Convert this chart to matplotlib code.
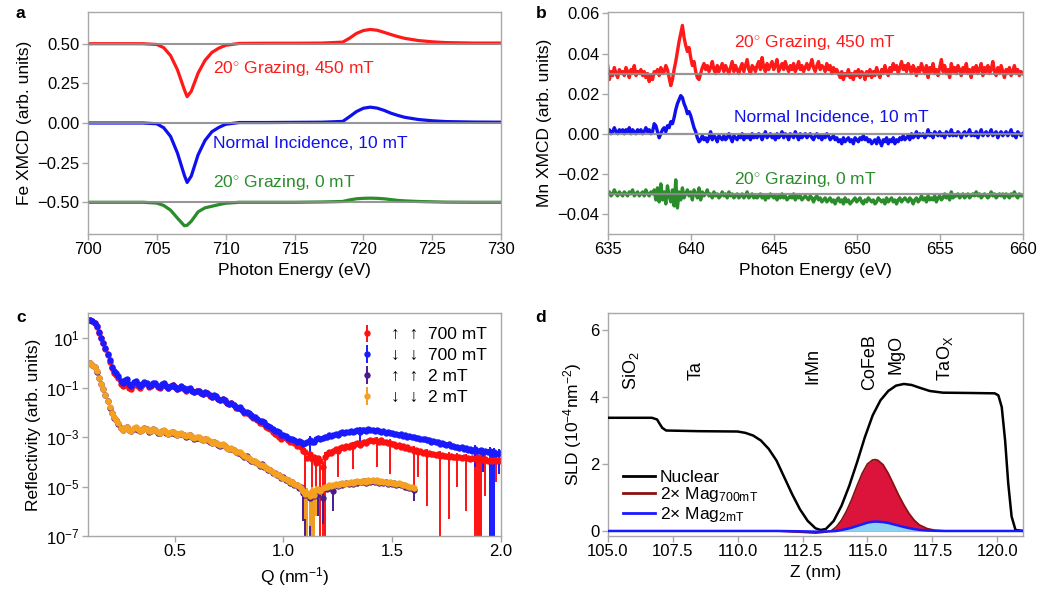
import numpy as np
import matplotlib
matplotlib.use("Agg")
import matplotlib.pyplot as plt
from matplotlib.ticker import FuncFormatter, NullLocator, LogFormatterMathtext

plt.rcParams['font.family'] = ['Liberation Sans', 'DejaVu Sans']
plt.rcParams['mathtext.fontset'] = 'custom'
plt.rcParams['mathtext.rm'] = 'Liberation Sans'
plt.rcParams['mathtext.it'] = 'Liberation Sans:italic'
plt.rcParams['mathtext.bf'] = 'Liberation Sans:bold'
plt.rcParams['font.size'] = 12.5

# ---- panel a: Fe XMCD (relative to each offset baseline)
fe_energy = [700, 702, 704, 705, 705.5, 706, 706.5, 707, 707.2, 707.5,
             708, 708.5, 709, 709.5, 710, 711, 713, 715, 717, 718.5,
             719, 719.5, 720, 720.5, 721, 721.5, 722, 722.5, 723, 724,
             725, 726, 728, 730]
fe_graz450 = [0, 0, 0, -0.005, -0.025, -0.075, -0.165, -0.29, -0.334, -0.30,
              -0.185, -0.105, -0.055, -0.028, -0.01, 0.002, 0.003, 0.003, 0.004, 0.01,
              0.035, 0.065, 0.083, 0.09, 0.085, 0.072, 0.058, 0.045, 0.034, 0.02,
              0.012, 0.007, 0.004, 0.004]
fe_normal10 = [0, 0, 0, -0.005, -0.03, -0.085, -0.19, -0.33, -0.375, -0.335,
               -0.2, -0.11, -0.055, -0.028, -0.008, 0.003, 0.003, 0.004, 0.005, 0.01,
               0.04, 0.072, 0.093, 0.1, 0.094, 0.08, 0.062, 0.048, 0.036, 0.022,
               0.014, 0.009, 0.006, 0.005]
fe_graz0 = [0, 0, 0, -0.005, -0.02, -0.05, -0.10, -0.148, -0.145, -0.12,
            -0.06, -0.035, -0.025, -0.015, -0.006, 0, 0, 0, 0.002, 0.005,
            0.015, 0.022, 0.025, 0.026, 0.025, 0.022, 0.017, 0.012, 0.009, 0.005,
            0.003, 0.001, 0, 0]
fe_offsets = [0.5, 0.0, -0.5]

# ---- panel b: Mn XMCD, 635-660 eV every 0.1 eV, values in units of 1e-3
mn_graz450 = [
    34, 27, 31, 29, 33, 30, 28, 32, 30, 31,
    29, 33, 31, 28, 32, 30, 34, 29, 31, 30,
    32, 29, 31, 28, 30, 26, 29, 27, 31, 30,
    32, 29, 33, 30, 31, 34, 32, 28, 24, 27,
    32, 36, 41, 46, 50, 54, 48, 44, 41, 43,
    38, 34, 36, 31, 28, 27, 30, 33, 35, 32,
    34, 31, 33, 36, 32, 30, 34, 31, 33, 35,
    31, 34, 32, 30, 33, 36, 31, 34, 32, 30,
    33, 35, 31, 34, 37, 32, 30, 34, 33, 31,
    34, 36, 32, 38, 33, 31, 35, 32, 34, 36,
    32, 34, 37, 31, 33, 35, 32, 36, 33, 31,
    34, 32, 35, 31, 33, 36, 32, 34, 31, 33,
    35, 32, 34, 37, 33, 31, 34, 36, 32, 34,
    33, 31, 35, 32, 34, 30, 33, 31, 32, 30,
    28, 31, 27, 30, 29, 32, 28, 30, 27, 31,
    29, 32, 28, 31, 30, 27, 31, 29, 32, 28,
    31, 29, 33, 30, 28, 32, 30, 34, 31, 29,
    33, 31, 35, 32, 34, 30, 33, 36, 32, 34,
    31, 35, 33, 30, 34, 32, 29, 33, 31, 35,
    32, 30, 34, 28, 33, 31, 35, 30, 32, 29,
    33, 37, 31, 34, 30, 32, 28, 35, 31, 33,
    30, 34, 32, 29, 33, 31, 35, 30, 32, 28,
    33, 31, 34, 30, 32, 35, 29, 33, 31, 34,
    30, 32, 36, 31, 29, 33, 30, 34, 31, 28,
    32, 30, 33, 29, 31, 34, 30, 32, 29, 31,
    30]
mn_normal10 = [
    1, 2, 0, 1, 3, 1, 0, 2, 1, 2,
    0, 2, 1, 3, 0, 2, 1, 0, 2, 1,
    2, 0, 1, 3, 1, 2, 0, 1, 5, 4,
    1, -2, 0, 2, 3, 1, 4, 3, 6, 5,
    8, 12, 15, 17, 19, 18, 15, 13, 10, 11,
    9, 6, 3, 1, -2, -4, -3, -1, -3, -2,
    -4, -2, 1, -3, -1, -2, -4, -1, -2, -3,
    -1, -3, -2, 0, -2, -4, -1, -2, -3, -1,
    -2, 0, -3, -1, -2, -1, -3, 0, -2, -1,
    -2, 0, -1, -3, -1, 1, -2, -1, 0, -2,
    -1, -3, 0, -2, -1, 1, -2, 0, -1, -3,
    0, -1, -2, 1, -1, -3, 0, -2, -1, 0,
    -2, -1, 0, -2, -3, -1, 0, -2, -1, -3,
    -1, -2, 0, -1, -3, -2, -1, -3, -2, -4,
    -3, -5, -2, -4, -3, -2, -4, -3, -5, -2,
    -3, -4, -2, -3, -1, -3, -2, -4, -3, -5,
    -4, -3, -5, -2, -4, -6, -3, -4, -2, -5,
    -3, -4, -2, -5, -3, -4, -2, -3, -1, -3,
    -2, -1, -3, 0, -2, -1, 1, -2, 0, -1,
    0, -2, -1, 2, -1, 0, -2, 1, 0, -1,
    1, -1, 0, -2, 1, 0, -1, 2, -1, 0,
    -1, 1, 0, -2, 0, 1, -1, 0, 2, -1,
    0, -1, 1, -2, 0, 2, -1, 0, 1, -1,
    0, 2, -1, 0, 1, -2, 0, 1, -1, 0,
    1, -1, 0, 2, -1, 0, -2, 1, 0, -1,
    0]
mn_graz0 = [
    -30, -29, -31, -30, -28, -30, -31, -29, -30, -31,
    -29, -30, -31, -29, -30, -28, -31, -30, -29, -31,
    -30, -29, -31, -28, -30, -31, -29, -30, -28, -33,
    -27, -34, -25, -33, -29, -35, -26, -31, -34, -28,
    -36, -23, -37, -29, -33, -27, -32, -30, -28, -31,
    -29, -33, -28, -30, -32, -27, -33, -29, -31, -30,
    -28, -31, -30, -32, -29, -31, -30, -32, -31, -29,
    -31, -30, -32, -29, -31, -30, -32, -31, -30, -32,
    -31, -30, -32, -31, -29, -32, -31, -30, -32, -31,
    -32, -31, -30, -32, -31, -33, -31, -32, -30, -31,
    -32, -31, -33, -31, -32, -30, -32, -31, -33, -32,
    -31, -32, -30, -33, -31, -32, -31, -33, -32, -31,
    -32, -33, -31, -32, -34, -32, -31, -33, -32, -34,
    -33, -32, -34, -33, -32, -34, -33, -35, -33, -32,
    -34, -33, -35, -32, -34, -33, -35, -34, -33, -32,
    -34, -33, -32, -34, -35, -33, -34, -32, -33, -34,
    -33, -35, -34, -32, -33, -34, -33, -35, -32, -34,
    -33, -32, -34, -33, -35, -33, -32, -34, -33, -32,
    -33, -34, -32, -33, -35, -33, -32, -34, -33, -31,
    -33, -32, -34, -31, -33, -32, -33, -31, -34, -32,
    -31, -33, -32, -30, -32, -31, -33, -29, -32, -31,
    -31, -30, -32, -31, -30, -32, -31, -30, -32, -31,
    -30, -31, -29, -31, -30, -32, -31, -30, -31, -32,
    -31, -29, -31, -30, -32, -31, -30, -31, -30, -32,
    -30, -31, -32, -30, -31, -29, -31, -32, -30, -31,
    -31]
mn_baselines = [0.03, 0.0, -0.03]

# ---- panel c: log10 reflectivity, Q every 0.01 nm^-1
logr_up_700 = [
    1.74, 1.73, 1.69, 1.60, 1.46, 1.22, 1.00, 0.78, 0.55, 0.32,
    0.05, -0.22, -0.40, -0.50, -0.62, -0.85, -0.95, -0.90, -0.82, -1.00,
    -1.05, -0.90, -0.82, -0.92, -1.00, -0.90, -0.82, -0.86, -0.98, -0.94,
    -0.84, -0.86, -0.98, -1.00, -0.88, -0.85, -0.95, -1.02, -0.95, -0.90,
    -0.98, -1.06, -1.02, -0.97, -1.04, -1.12, -1.07, -1.04, -1.14, -1.20,
    -1.14, -1.14, -1.24, -1.28, -1.22, -1.24, -1.34, -1.40, -1.34, -1.38,
    -1.48, -1.52, -1.47, -1.54, -1.64, -1.68, -1.64, -1.72, -1.82, -1.84,
    -1.82, -1.92, -2.02, -2.02, -2.06, -2.16, -2.24, -2.22, -2.32, -2.42,
    -2.42, -2.48, -2.60, -2.64, -2.68, -2.80, -2.88, -2.90, -2.98, -3.10,
    -3.00, -3.04, -3.12, -3.20, -3.18, -3.25, -3.35, -3.30, -3.40, -3.55,
    -3.60, -3.85, -3.70, -3.90, -3.80, -4.05, -3.85, -3.95, -4.20, -3.80,
    -3.70, -3.60, -3.65, -3.55, -3.50, -3.56, -3.46, -3.42, -3.46, -3.38,
    -3.40, -3.34, -3.38, -3.30, -3.26, -3.32, -3.24, -3.20, -3.24, -3.16,
    -3.14, -3.18, -3.12, -3.16, -3.20, -3.14, -3.22, -3.20, -3.26, -3.24,
    -3.30, -3.28, -3.36, -3.34, -3.40, -3.38, -3.46, -3.42, -3.50, -3.48,
    -3.55, -3.52, -3.60, -3.58, -3.64, -3.60, -3.68, -3.65, -3.70, -3.68,
    -3.72, -3.70, -3.76, -3.74, -3.78, -3.76, -3.80, -3.78, -3.82, -3.80,
    -3.82, -3.80, -3.84, -3.82, -3.86, -3.84, -3.88, -3.85, -3.90, -3.86,
    -3.92, -3.88, -3.94, -3.90, -3.95, -3.92, -3.96, -3.93, -3.97, -3.94,
    -3.95]
logr_down_700 = [
    1.74, 1.74, 1.70, 1.62, 1.48, 1.25, 1.02, 0.80, 0.58, 0.35,
    0.10, -0.15, -0.32, -0.40, -0.52, -0.72, -0.80, -0.70, -0.65, -0.85,
    -0.92, -0.78, -0.72, -0.85, -0.95, -0.85, -0.78, -0.82, -0.95, -0.90,
    -0.80, -0.82, -0.95, -0.98, -0.85, -0.82, -0.92, -1.00, -0.92, -0.88,
    -0.96, -1.05, -1.00, -0.95, -1.02, -1.10, -1.05, -1.02, -1.12, -1.18,
    -1.12, -1.12, -1.22, -1.26, -1.20, -1.22, -1.32, -1.38, -1.32, -1.36,
    -1.46, -1.50, -1.45, -1.52, -1.62, -1.66, -1.62, -1.70, -1.80, -1.82,
    -1.80, -1.90, -2.00, -2.00, -2.02, -2.12, -2.20, -2.18, -2.26, -2.35,
    -2.35, -2.40, -2.52, -2.55, -2.58, -2.68, -2.75, -2.75, -2.80, -2.90,
    -2.92, -2.95, -3.02, -3.10, -3.08, -3.12, -3.20, -3.18, -3.22, -3.28,
    -3.25, -3.20, -3.12, -3.20, -3.22, -3.10, -3.05, -3.10, -3.02, -2.98,
    -3.00, -2.92, -2.96, -2.90, -2.86, -2.92, -2.85, -2.80, -2.84, -2.78,
    -2.80, -2.76, -2.80, -2.74, -2.72, -2.78, -2.72, -2.70, -2.74, -2.68,
    -2.72, -2.70, -2.76, -2.72, -2.75, -2.80, -2.76, -2.82, -2.80, -2.85,
    -2.84, -2.88, -2.86, -2.92, -2.88, -2.95, -2.92, -2.98, -2.95, -3.00,
    -3.00, -3.05, -3.02, -3.08, -3.10, -3.06, -3.14, -3.12, -3.20, -3.16,
    -3.22, -3.20, -3.28, -3.25, -3.30, -3.34, -3.30, -3.38, -3.35, -3.40,
    -3.40, -3.45, -3.42, -3.48, -3.45, -3.52, -3.48, -3.55, -3.50, -3.58,
    -3.55, -3.52, -3.60, -3.58, -3.62, -3.58, -3.65, -3.60, -3.68, -3.64,
    -3.66]
logr_up_2 = [
    0.00, -0.02, -0.09, -0.19, -0.36, -0.61, -0.86, -1.06, -1.31, -1.56,
    -1.82, -2.04, -2.22, -2.32, -2.47, -2.65, -2.72, -2.64, -2.60, -2.72,
    -2.77, -2.67, -2.62, -2.70, -2.77, -2.72, -2.64, -2.68, -2.78, -2.76,
    -2.68, -2.72, -2.82, -2.84, -2.76, -2.74, -2.82, -2.88, -2.82, -2.80,
    -2.86, -2.92, -2.88, -2.86, -2.92, -2.98, -2.94, -2.92, -3.00, -3.06,
    -3.02, -3.02, -3.10, -3.14, -3.10, -3.12, -3.20, -3.26, -3.22, -3.26,
    -3.32, -3.36, -3.32, -3.38, -3.46, -3.50, -3.47, -3.54, -3.62, -3.64,
    -3.64, -3.72, -3.82, -3.78, -3.88, -3.95, -3.96, -4.02, -4.05, -4.16,
    -4.10, -4.22, -4.25, -4.34, -4.32, -4.46, -4.46, -4.55, -4.52, -4.66,
    -4.62, -4.72, -4.74, -4.85, -4.80, -4.92, -4.95, -5.05, -5.02, -5.28,
    -5.35, -5.30, -5.45, -5.28, -5.40, -5.22, -5.30, -5.15, -5.45, -5.05,
    -5.10, -4.98, -5.05, -5.20, -4.92, -4.98, -4.90, -4.92, -4.88, -4.86,
    -4.88, -4.84, -4.90, -4.82, -4.84, -4.80, -4.82, -4.78, -4.84, -4.77,
    -4.80, -4.76, -4.82, -4.77, -4.84, -4.80, -4.86, -4.83, -4.88, -4.85,
    -4.90, -4.87, -4.92, -4.90, -4.95, -4.94, -5.00, -5.02, -5.08, -5.05,
    -5.15]
logr_down_2 = [
    0.00, -0.02, -0.08, -0.18, -0.35, -0.60, -0.85, -1.05, -1.30, -1.55,
    -1.80, -2.02, -2.20, -2.30, -2.45, -2.62, -2.70, -2.62, -2.58, -2.70,
    -2.75, -2.65, -2.60, -2.68, -2.75, -2.70, -2.62, -2.66, -2.76, -2.74,
    -2.66, -2.70, -2.80, -2.82, -2.74, -2.72, -2.80, -2.86, -2.80, -2.78,
    -2.84, -2.90, -2.86, -2.84, -2.90, -2.96, -2.92, -2.90, -2.98, -3.04,
    -3.00, -3.00, -3.08, -3.12, -3.08, -3.10, -3.18, -3.24, -3.20, -3.24,
    -3.30, -3.34, -3.30, -3.36, -3.44, -3.48, -3.45, -3.52, -3.60, -3.62,
    -3.62, -3.70, -3.78, -3.80, -3.84, -3.92, -3.98, -3.98, -4.05, -4.12,
    -4.12, -4.18, -4.26, -4.30, -4.34, -4.42, -4.48, -4.50, -4.55, -4.62,
    -4.64, -4.68, -4.75, -4.80, -4.82, -4.88, -4.95, -4.98, -5.05, -5.20,
    -5.30, -5.25, -5.40, -5.20, -5.35, -5.15, -5.10, -5.20, -5.05, -5.00,
    -5.02, -4.95, -4.98, -4.92, -4.90, -4.94, -4.88, -4.86, -4.90, -4.84,
    -4.85, -4.82, -4.86, -4.80, -4.78, -4.82, -4.78, -4.76, -4.80, -4.75,
    -4.76, -4.74, -4.78, -4.75, -4.80, -4.78, -4.82, -4.80, -4.85, -4.82,
    -4.86, -4.84, -4.88, -4.86, -4.90, -4.92, -4.95, -4.98, -5.00, -5.02,
    -5.05]
# long error bars: (Q, log10 of lower end)
spikes_up_700 = [(1.10, -5.5), (1.13, -6.2), (1.15, -5.0), (1.17, -8), (1.18, -8), (1.19, -8),
                 (1.25, -4.6), (1.32, -4.3), (1.43, -4.2), (1.49, -4.5), (1.60, -5.3), (1.62, -4.6),
                 (1.66, -5.8), (1.72, -8), (1.76, -6.3), (1.80, -5.0), (1.84, -6.0), (1.88, -8),
                 (1.89, -8), (1.90, -8), (1.91, -8), (1.93, -5.4), (1.98, -4.8)]
spikes_down_700 = [(1.12, -3.7), (1.35, -3.3), (1.88, -4.2), (1.92, -4.4), (1.95, -8),
                   (1.96, -8), (1.97, -8), (1.99, -4.5)]
spikes_up_2 = [(1.09, -6.4), (1.10, -8), (1.11, -8), (1.12, -8), (1.13, -6.8), (1.14, -8),
               (1.16, -6.2), (1.18, -6.5), (1.23, -6.0), (1.60, -5.6)]
spikes_down_2 = [(1.10, -6.3), (1.11, -8), (1.12, -6.6), (1.13, -8), (1.14, -8), (1.15, -6.2)]
refl_labels = ['\u2191  \u2191  700 mT', '\u2193  \u2193  700 mT',
               '\u2191  \u2191  2 mT', '\u2193  \u2193  2 mT']

# ---- panel d: SLD profiles
z_nuc = [105, 106.7, 106.9, 107.0, 107.1, 107.25, 108.5, 110.0, 110.3, 110.6,
         110.9, 111.2, 111.5, 111.8, 112.1, 112.4, 112.7, 113.0, 113.2, 113.4,
         113.7, 114.0, 114.3, 114.6, 114.9, 115.2, 115.5, 115.8, 116.1, 116.4,
         116.7, 117.0, 117.4, 117.9, 119.0, 119.9, 120.04, 120.17, 120.3, 120.42,
         120.55, 120.7, 121.0]
sld_nuc = [3.38, 3.38, 3.33, 3.2, 3.08, 3.0, 2.98, 2.97, 2.93, 2.85,
           2.7, 2.45, 2.1, 1.6, 1.1, 0.65, 0.3, 0.08, 0.03, 0.06,
           0.3, 0.75, 1.35, 2.05, 2.8, 3.45, 3.9, 4.18, 4.34, 4.39,
           4.36, 4.28, 4.18, 4.13, 4.12, 4.11, 4.05, 3.7, 2.7, 1.42,
           0.43, 0.03, 0.0]
z_mag = [105, 111.5, 112.5, 113.0, 113.3, 113.6, 113.8, 114.0, 114.2, 114.4,
         114.6, 114.8, 115.0, 115.2, 115.3, 115.4, 115.6, 115.8, 116.0, 116.2,
         116.4, 116.6, 116.8, 117.0, 117.3, 117.6, 118.0, 121.0]
sld_mag700 = [0, 0, -0.04, -0.06, -0.04, 0.0, 0.12, 0.32, 0.6, 0.95,
              1.35, 1.72, 2.0, 2.12, 2.13, 2.11, 1.98, 1.72, 1.4, 1.07,
              0.78, 0.52, 0.32, 0.18, 0.07, 0.02, 0, 0]
sld_mag2 = [0, 0, -0.01, -0.02, -0.015, -0.01, 0.0, 0.03, 0.06, 0.1,
            0.15, 0.2, 0.25, 0.275, 0.28, 0.278, 0.265, 0.24, 0.2, 0.16,
            0.12, 0.085, 0.055, 0.033, 0.014, 0.005, 0, 0]
layers = ['SiO$_2$', 'Ta', 'IrMn', 'CoFeB', 'MgO', 'TaO$_{\\mathrm{X}}$']
layer_z = [105.9, 108.4, 112.9, 115.1, 116.1, 118.0]
layer_y = [4.8, 4.78, 4.93, 5.03, 5.28, 5.16]

RED, BLUE, GREEN = '#ff1a1a', '#1010ee', '#2a8c2a'
GREY = '#8c8c8c'


def style(ax):
    for s in ax.spines.values():
        s.set_color('#a8a8a8')
        s.set_linewidth(1.0)
    ax.tick_params(direction='out', length=4, width=1, color='#a8a8a8',
                   labelsize=12, pad=2)


def uminus(fmt):
    return FuncFormatter(lambda v, p: fmt.format(v).replace('-', '\u2212'))


fig = plt.figure(figsize=(10.46, 5.96), dpi=100)
W, H = 1046, 596


def axes_px(x0, y0, x1, y1):
    return fig.add_axes([x0 / W, 1 - y1 / H, (x1 - x0) / W, (y1 - y0) / H])


ax_a = axes_px(88, 12, 501, 234)
ax_b = axes_px(607.7, 12, 1022.7, 234)
ax_c = axes_px(88, 313.3, 500.7, 536)
ax_d = axes_px(607.7, 313.3, 1023.3, 536)

# panel a
for vals, off, col in zip([fe_graz450, fe_normal10, fe_graz0], fe_offsets, [RED, BLUE, GREEN]):
    ax_a.plot(fe_energy, np.array(vals) + off, color=col, lw=2.3, solid_joinstyle='round')
    ax_a.axhline(off, color=GREY, lw=1.5, zorder=3, alpha=0.9)
ax_a.set_xlim(700, 730)
ax_a.set_ylim(-0.7, 0.7)
ax_a.set_yticks([-0.5, -0.25, 0, 0.25, 0.5])
ax_a.yaxis.set_major_formatter(uminus('{:.2f}'))
ax_a.set_xlabel('Photon Energy (eV)')
ax_a.set_ylabel('Fe XMCD (arb. units)')
ax_a.text(709.1, 0.346, '20$^{\\circ}$ Grazing, 450 mT', color=RED, va='center')
ax_a.text(709.1, -0.13, 'Normal Incidence, 10 mT', color=BLUE, va='center')
ax_a.text(709.1, -0.375, '20$^{\\circ}$ Grazing, 0 mT', color=GREEN, va='center')
style(ax_a)

# panel b
for vals, base, col in zip([mn_graz450, mn_normal10, mn_graz0], mn_baselines, [RED, BLUE, GREEN]):
    e = np.linspace(635, 660, len(vals))
    ax_b.plot(e, np.array(vals) * 1e-3, color=col, lw=2.4)
    ax_b.axhline(base, color=GREY, lw=1.6, zorder=3, alpha=0.9)
ax_b.set_xlim(635, 660)
ax_b.set_ylim(-0.05, 0.0607)
ax_b.set_yticks([-0.04, -0.02, 0, 0.02, 0.04, 0.06])
ax_b.yaxis.set_major_formatter(uminus('{:.2f}'))
ax_b.set_xlabel('Photon Energy (eV)')
ax_b.set_ylabel('Mn XMCD (arb. units)')
ax_b.text(642.6, 0.0455, '20$^{\\circ}$ Grazing, 450 mT', color=RED, va='center')
ax_b.text(642.6, 0.0083, 'Normal Incidence, 10 mT', color=BLUE, va='center')
ax_b.text(642.6, -0.0229, '20$^{\\circ}$ Grazing, 0 mT', color=GREEN, va='center')
style(ax_b)

# panel c
refl_sets = [(logr_up_700, spikes_up_700, 2.0, '#ff1010'),
             (logr_down_700, spikes_down_700, 2.0, '#1a1aff'),
             (logr_up_2, spikes_up_2, 1.6, '#4b1a8c'),
             (logr_down_2, spikes_down_2, 1.6, '#f5a020')]
for (logr, spikes, qmax, col), lab in zip(refl_sets, refl_labels):
    q = np.linspace(0.10, qmax, len(logr))
    r = 10.0 ** np.array(logr)
    lower = np.zeros_like(r)
    upper = np.zeros_like(r)
    for qs, low in spikes:
        i = min(int(round((qs - 0.10) / 0.01)), len(r) - 1)
        lower[i] = r[i] - 10.0 ** low
        upper[i] = r[i] * 0.5
    ax_c.errorbar(q, r, yerr=[lower, upper], fmt='o', ms=4.6, mew=0, color=col,
                  ecolor=col, elinewidth=1.4, capsize=0, label=lab)
ax_c.set_yscale('log')
ax_c.set_xlim(0.1, 2.0)
ax_c.set_ylim(1e-7, 1e2)
ax_c.set_yticks([1e1, 1e-1, 1e-3, 1e-5, 1e-7])
ax_c.yaxis.set_major_formatter(LogFormatterMathtext())
ax_c.yaxis.set_minor_locator(NullLocator())
ax_c.set_xticks([0.5, 1.0, 1.5, 2.0])
ax_c.xaxis.set_major_formatter(uminus('{:.1f}'))
ax_c.set_xlabel('Q (nm$^{-1}$)')
ax_c.set_ylabel('Reflectivity (arb. units)')
ax_c.legend(loc='upper right', frameon=False, handlelength=0.8, handletextpad=1.0,
            labelspacing=0.33, borderaxespad=0.4, fontsize=12.5)
style(ax_c)

# panel d
ax_d.fill_between(z_mag, 0, sld_mag700, color='#dc143c', lw=0, zorder=1)
ax_d.fill_between(z_mag, 0, sld_mag2, color='#8fd0f5', lw=0, zorder=2)
ax_d.plot(z_nuc, sld_nuc, color='black', lw=1.8, zorder=4, label='Nuclear')
ax_d.plot(z_mag, sld_mag700, color='#8b1010', lw=1.3, zorder=3,
          label='2$\\times$ Mag$_{\\mathrm{700mT}}$')
ax_d.plot(z_mag, sld_mag2, color='#1a1aff', lw=1.8, zorder=5,
          label='2$\\times$ Mag$_{\\mathrm{2mT}}$')
for name, zx, yy in zip(layers, layer_z, layer_y):
    ax_d.text(zx, yy, name, rotation=90, ha='center', va='center', fontsize=13)
ax_d.set_xlim(105, 121)
ax_d.set_ylim(-0.15, 6.5)
ax_d.set_yticks([0, 2, 4, 6])
ax_d.set_xticks([105, 107.5, 110, 112.5, 115, 117.5, 120])
ax_d.xaxis.set_major_formatter(uminus('{:.1f}'))
ax_d.set_xlabel('Z (nm)')
ax_d.set_ylabel('SLD (10$^{-4}$nm$^{-2}$)')
leg = ax_d.legend(loc='lower left', bbox_to_anchor=(0.0, -0.015), frameon=False,
                  handlelength=1.8, handletextpad=0.3, labelspacing=0.02, fontsize=12.5)
for h in leg.legend_handles:
    h.set_linewidth(2.0)
style(ax_d)

for lab, x, y in [('a', 20.7, 14), ('b', 540.7, 14), ('c', 20.7, 318), ('d', 540.7, 318)]:
    fig.text(x / W, 1 - y / H, lab, fontweight='bold', fontsize=12.5, ha='center', va='center')

fig.savefig('out.png', dpi=100)
